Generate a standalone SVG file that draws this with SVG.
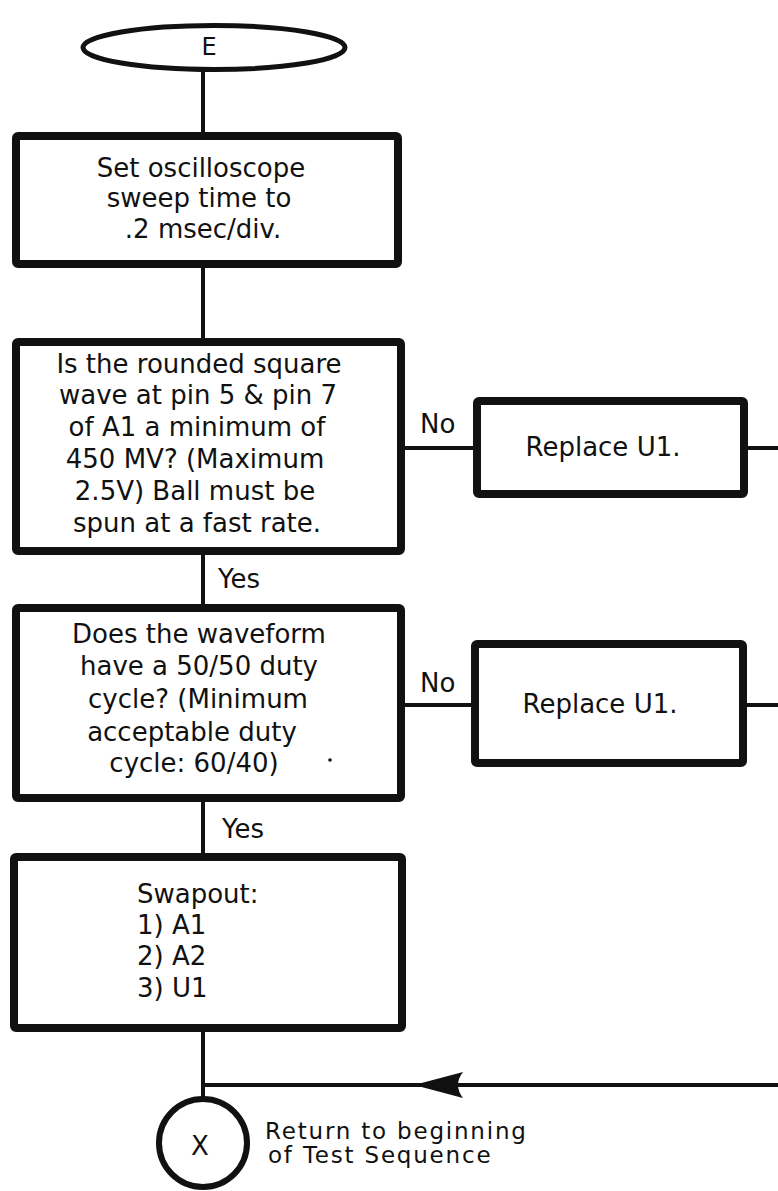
<svg xmlns="http://www.w3.org/2000/svg" width="778" height="1191" viewBox="0 0 778 1191">
<style>
.box{fill:#fff;stroke:#111;stroke-width:8;stroke-linejoin:round}
.term{fill:#fff;stroke:#111;stroke-width:5}
.ln{fill:none;stroke:#111;stroke-width:4}
.t{font-family:"DejaVu Sans",sans-serif;font-size:26px;fill:#111}
.c{text-anchor:middle}
.ret{font-size:23px;letter-spacing:1.8px}
</style>
<rect width="778" height="1191" fill="#fff"/>
<g id="connectors">
<line class="ln" x1="203" y1="70" x2="203" y2="136"/>
<line class="ln" x1="203" y1="264" x2="203" y2="342"/>
<line class="ln" x1="203" y1="551" x2="203" y2="608"/>
<line class="ln" x1="203" y1="798" x2="203" y2="857"/>
<line class="ln" x1="203" y1="1028" x2="203" y2="1100"/>
<line class="ln" x1="401" y1="448" x2="477" y2="448"/>
<line class="ln" x1="744" y1="448" x2="778" y2="448"/>
<line class="ln" x1="401" y1="705" x2="475" y2="705"/>
<line class="ln" x1="743" y1="705" x2="778" y2="705"/>
<line class="ln" x1="201" y1="1085" x2="778" y2="1085" stroke-width="5"/>
<path d="M414,1085 L463,1072 Q453,1085 463,1098 Z" fill="#111"/>
<text class="t" x="218" y="588">Yes</text>
<text class="t" x="222" y="838">Yes</text>
<text class="t" x="420" y="433">No</text>
<text class="t" x="420" y="692">No</text>
</g>
<g id="start">
<ellipse class="term" cx="214" cy="47.5" rx="131" ry="22"/>
<text class="t c" x="209" y="55" style="font-size:24px">E</text>
</g>
<g id="set-sweep">
<rect class="box" x="16" y="136" width="382" height="128" rx="2"/>
<text class="t c" x="201" y="177">Set oscilloscope</text>
<text class="t c" x="199" y="207">sweep time to</text>
<text class="t c" x="203" y="238">.2 msec/div.</text>
</g>
<g id="check-amplitude">
<rect class="box" x="16" y="342" width="385" height="209" rx="2"/>
<text class="t c" x="199" y="373">Is the rounded square</text>
<text class="t c" x="198" y="404">wave at pin 5 &amp; pin 7</text>
<text class="t c" x="197" y="436">of A1 a minimum of</text>
<text class="t c" x="195" y="468">450 MV? (Maximum</text>
<text class="t c" x="195" y="500">2.5V) Ball must be</text>
<text class="t c" x="197" y="532">spun at a fast rate.</text>
</g>
<g id="replace-u1-a">
<rect class="box" x="477" y="401" width="267" height="93" rx="2"/>
<text class="t c" x="603" y="456">Replace U1.</text>
</g>
<g id="check-duty">
<rect class="box" x="16" y="608" width="385" height="190" rx="2"/>
<text class="t c" x="199" y="643">Does the waveform</text>
<text class="t c" x="199" y="675">have a 50/50 duty</text>
<text class="t c" x="198" y="708">cycle? (Minimum</text>
<text class="t c" x="192" y="741">acceptable duty</text>
<text class="t c" x="194" y="772">cycle: 60/40)</text>
<circle cx="330" cy="760" r="1.8" fill="#111"/>
</g>
<g id="replace-u1-b">
<rect class="box" x="475" y="644" width="268" height="119" rx="2"/>
<text class="t c" x="600" y="713">Replace U1.</text>
</g>
<g id="swapout">
<rect class="box" x="14" y="857" width="388" height="171" rx="2"/>
<text class="t" x="137" y="903">Swapout:</text>
<text class="t" x="137" y="934">1) A1</text>
<text class="t" x="137" y="965">2) A2</text>
<text class="t" x="137" y="997">3) U1</text>
</g>
<g id="return-x">
<circle cx="203" cy="1143" r="44" fill="#fff" stroke="#111" stroke-width="6"/>
<text class="t c" x="200" y="1155">X</text>
<text class="t ret" x="265" y="1139">Return to beginning</text>
<text class="t ret" x="268" y="1163">of Test Sequence</text>
</g>
</svg>
